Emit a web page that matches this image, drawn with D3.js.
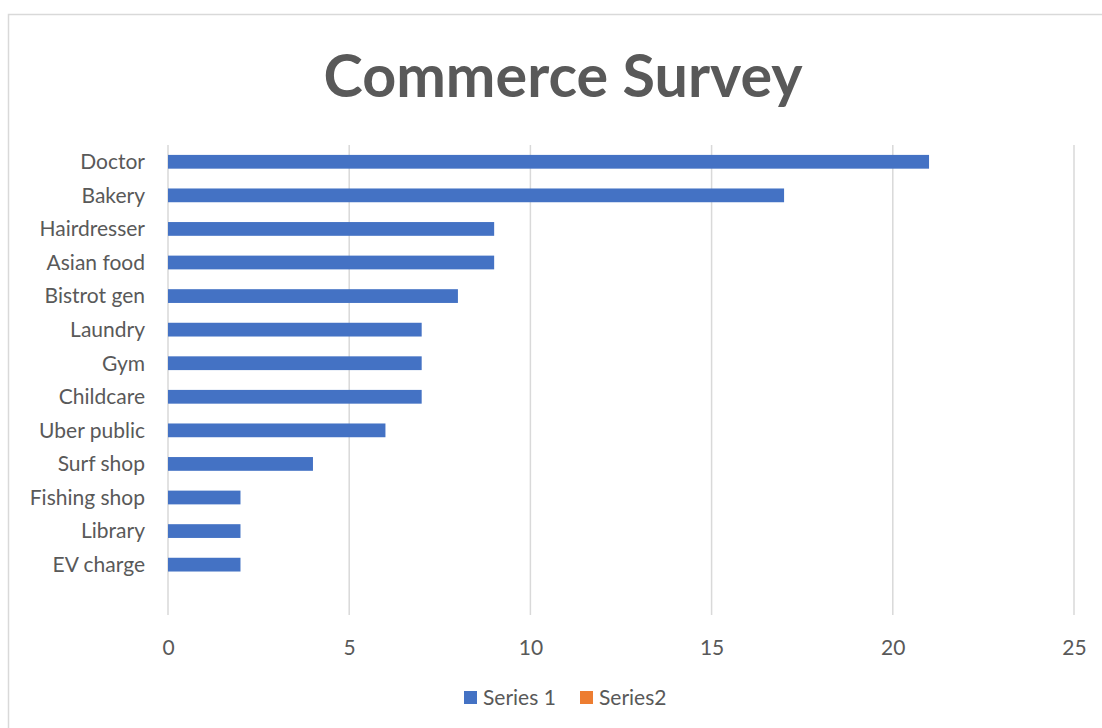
<!DOCTYPE html>
<html>
<head>
<meta charset="utf-8">
<script src="https://cdn.jsdelivr.net/npm/d3@7"></script>
<style>
  html, body { margin: 0; padding: 0; background: #fff; }
  svg { display: block; }
  text { font-family: Lato, "Open Sans", sans-serif; }
</style>
</head>
<body>
<svg id="chart" width="1102" height="728"></svg>
<script>
const title = "Commerce Survey";
const categories = ["Doctor", "Bakery", "Hairdresser", "Asian food", "Bistrot gen", "Laundry", "Gym ", "Childcare", "Uber public", "Surf shop", "Fishing shop", "Library", "EV charge", ""];
const series1 = [21, 17, 9, 9, 8, 7, 7, 7, 6, 4, 2, 2, 2, null];
const series2 = [null, null, null, null, null, null, null, null, null, null, null, null, null, null];
const xTicks = [0, 5, 10, 15, 20, 25];
const seriesNames = ["Series 1", "Series2"];
const seriesColors = ["#4472C4", "#ED7D31"];

const svg = d3.select("#chart");
const W = 1102, H = 728;
const fs = 21;

// chart border
svg.append("rect")
  .attr("x", 8.5).attr("y", 14.5)
  .attr("width", W + 20).attr("height", H + 20)
  .attr("fill", "#fff").attr("stroke", "#d9d9d9").attr("stroke-width", 1.5);

const plot = { left: 168, right: 1074, top: 145, bottom: 615 };

const x = d3.scaleLinear().domain([0, 25]).range([plot.left, plot.right]);
const y = d3.scaleBand().domain(categories).range([plot.top, plot.bottom]).paddingInner(0).paddingOuter(0);

// gridlines
svg.append("g")
  .selectAll("line")
  .data(xTicks)
  .join("line")
  .attr("x1", d => x(d)).attr("x2", d => x(d))
  .attr("y1", plot.top).attr("y2", plot.bottom)
  .attr("stroke", "#d9d9d9").attr("stroke-width", 1.5);

// bars
const barH = y.bandwidth() * 0.41;
svg.append("g")
  .selectAll("rect")
  .data(categories.map((c, i) => ({ c, v: series1[i] })).filter(d => d.v != null))
  .join("rect")
  .attr("x", x(0))
  .attr("y", d => y(d.c) + y.bandwidth() / 2 - barH / 2)
  .attr("width", d => x(d.v) - x(0))
  .attr("height", barH)
  .attr("fill", seriesColors[0]);

// category labels
svg.append("g")
  .selectAll("text")
  .data(categories)
  .join("text")
  .attr("x", 145)
  .attr("y", d => y(d) + y.bandwidth() / 2)
  .attr("dy", "0.35em")
  .attr("text-anchor", "end")
  .attr("font-size", fs)
  .attr("fill", "#595959")
  .text(d => d);

// x tick labels
const xAxis = d3.axisBottom(x).tickValues(xTicks).tickSize(0).tickPadding(0);
const gx = svg.append("g").attr("transform", `translate(0, 648)`).call(xAxis);
gx.select(".domain").remove();
gx.selectAll("text")
  .attr("font-family", "Lato, 'Open Sans', sans-serif")
  .attr("font-size", fs)
  .attr("fill", "#595959")
  .attr("dy", "0.35em")
  .attr("y", 0);

// title
const t = svg.append("text")
  .attr("x", 563).attr("y", 97)
  .attr("text-anchor", "middle")
  .attr("font-weight", "bold")
  .attr("font-size", 57)
  .attr("fill", "#595959")
  .text(title);
const tw = t.node().getComputedTextLength();
t.attr("font-size", 57 * 479 / tw);

// legend
const legendItems = [
  { name: seriesNames[0], color: seriesColors[0], x: 464 },
  { name: seriesNames[1], color: seriesColors[1], x: 580 }
];
const lg = svg.append("g");
legendItems.forEach(d => {
  lg.append("rect").attr("x", d.x).attr("y", 691).attr("width", 13).attr("height", 13).attr("fill", d.color);
  lg.append("text").attr("x", d.x + 19).attr("y", 698).attr("dy", "0.35em")
    .attr("font-size", fs).attr("fill", "#595959").text(d.name);
});
</script>
</body>
</html>
